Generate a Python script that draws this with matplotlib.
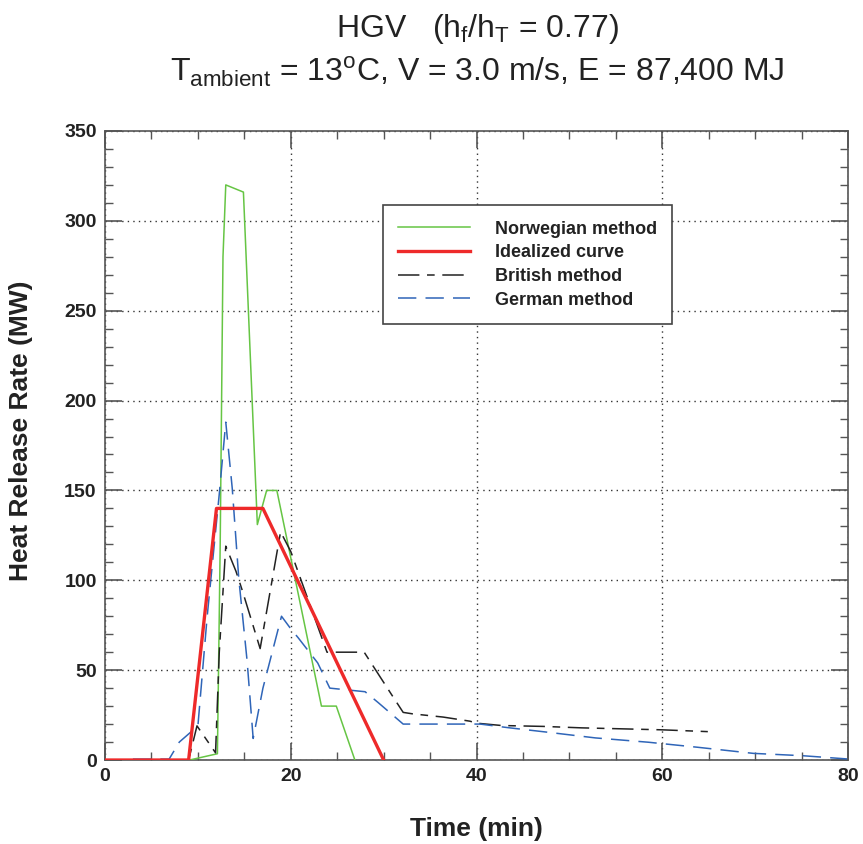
import numpy as np
import matplotlib
matplotlib.use("Agg")
import matplotlib.pyplot as plt
from matplotlib.ticker import MultipleLocator

# Norwegian method
nor_t = [0, 9.1, 12.1, 12.4, 12.7, 13.0, 14.9, 16.4, 17.4, 18.5, 23.3, 24.9, 26.9]
nor_q = [0, 0, 3.5, 120, 280, 320, 316, 131, 150, 150, 30, 30, 0]

# Idealized curve
ide_t = [0, 9, 12, 17, 30]
ide_q = [0, 0, 140, 140, 0]

# British method
bri_t = [6.3, 9.0, 9.9, 11.9, 12.3, 13.0, 14.1, 14.8, 16.7, 18.9, 20.0, 23.9, 27.9,
         30.9, 32.1, 33.1, 36.4, 39.3, 40.0, 42.7, 47.2, 51.3, 55.3, 60.0, 64.9]
bri_q = [0, 0, 19, 4, 60, 119, 105, 94, 62, 127, 116, 60, 60,
         36, 26.5, 25.7, 23.9, 21.6, 20.5, 19.2, 18.7, 17.9, 17.4, 16.8, 15.8]

# German method
ger_t = [3.0, 6.9, 8.0, 10.0, 11.0, 12.3, 13.0, 13.7, 14.4, 15.3, 15.95, 17.0, 19.0,
         20.0, 20.8, 22.9, 24.2, 28.0, 29.4, 32.1, 40.4, 43.4, 47.6, 52.8, 58.5,
         63.8, 69.8, 75.1, 79.9]
ger_q = [0.5, 0.5, 10, 19, 80, 148, 188, 151, 101, 55, 12, 40, 80,
         73, 68, 54, 40, 38, 32, 20, 20, 18, 15.5, 12.3, 9.9,
         7.1, 3.7, 2.4, 0.6]

plt.rcParams['font.family'] = ['Liberation Sans', 'DejaVu Sans']
plt.rcParams['mathtext.fontset'] = 'custom'
plt.rcParams['mathtext.rm'] = 'Liberation Sans'

fig = plt.figure(figsize=(8.63, 8.44), dpi=100)
ax = fig.add_axes([0.1217, 0.0995, 0.861, 0.7453])

ax.plot(nor_t, nor_q, color="#66c544", lw=1.1, label="Norwegian method", zorder=3)
ax.plot(ide_t, ide_q, color="#ee2a2a", lw=2.4, label="Idealized curve", zorder=4)
ax.plot(bri_t, bri_q, color="#222222", lw=1.1, dashes=(14, 5, 5, 5),
        label="British method", zorder=3)
ax.plot(ger_t, ger_q, color="#2f65b8", lw=1.1, dashes=(12, 6),
        label="German method", zorder=3)

ax.set_xlim(0, 80)
ax.set_ylim(0, 350)
ax.xaxis.set_major_locator(MultipleLocator(20))
ax.xaxis.set_minor_locator(MultipleLocator(5))
ax.yaxis.set_major_locator(MultipleLocator(50))
ax.yaxis.set_minor_locator(MultipleLocator(10))
ax.tick_params(which="both", direction="in", top=True, right=True, color="#555555")
ax.tick_params(which="major", length=12, width=1.2, labelsize=14, pad=6,
               labelcolor="#222222")
ax.tick_params(which="minor", length=6, width=1.0)
for lab in ax.get_xticklabels() + ax.get_yticklabels():
    lab.set_fontweight("bold")
for s in ax.spines.values():
    s.set_color("#555555")
    s.set_linewidth(1.2)

ax.grid(True, which="major", color="#333333", linestyle=(0, (1, 3)), lw=1.0)

ax.set_xlabel("Time (min)", fontsize=19, fontweight="bold", color="#222222")
ax.set_ylabel("Heat Release Rate (MW)", fontsize=19, fontweight="bold",
              color="#222222")
ax.xaxis.set_label_coords(0.5, -0.09)
ax.yaxis.set_label_coords(-0.097, 0.523)

fig.text(0.553, 0.956, r"HGV   (h$_\mathregular{f}$/h$_\mathregular{T}$ = 0.77)",
         ha="center", va="baseline", fontsize=23, color="#222222")
fig.text(0.553, 0.903,
         r"T$_\mathregular{ambient}$ = 13$^\mathregular{o}$C, V = 3.0 m/s, E = 87,400 MJ",
         ha="center", va="baseline", fontsize=23, color="#222222")

leg = ax.legend(loc="upper left", bbox_to_anchor=(0.374, 0.882), fontsize=13,
                handlelength=3.95, handletextpad=1.4, borderpad=0.85,
                labelspacing=0.37, fancybox=False, framealpha=1,
                edgecolor="#444444", borderaxespad=0)
leg.get_frame().set_linewidth(1.2)
for t in leg.get_texts():
    t.set_fontweight("bold")
    t.set_color("#222222")

fig.savefig("out.png", dpi=100)
